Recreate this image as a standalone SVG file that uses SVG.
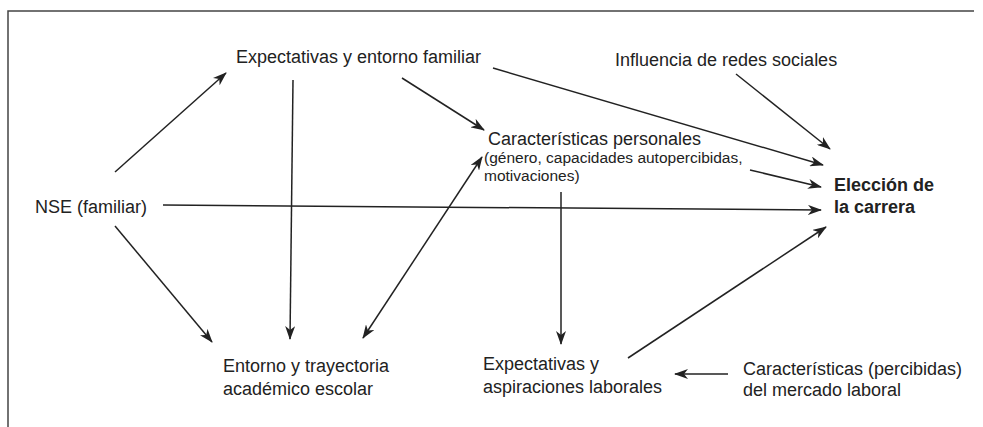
<svg xmlns="http://www.w3.org/2000/svg" width="983" height="427" viewBox="0 0 983 427">
<defs>
<style>
text{font-family:"Liberation Sans",Arial,Helvetica,sans-serif;font-size:18px;fill:#222}
.sm{font-size:15.5px}
.b{font-weight:bold}
.c{stroke:#222;stroke-width:1.5;fill:none}
</style>
<marker id="ah" viewBox="0 0 14 10" refX="13" refY="5" markerWidth="14" markerHeight="10" markerUnits="userSpaceOnUse" orient="auto-start-reverse">
<path d="M0,0 L14,5 L0,10 L4,5 z" fill="#222"/>
</marker>
</defs>
<rect width="983" height="427" fill="#fff"/>
<path d="M8,427 V11 H974" stroke="#444" stroke-width="1.5" fill="none"/>
<g id="nse"><text x="35" y="213">NSE (familiar)</text></g>
<g id="expfam"><text x="236" y="63">Expectativas y entorno familiar</text></g>
<g id="redes"><text x="615" y="66">Influencia de redes sociales</text></g>
<g id="personales"><text x="488" y="145">Características personales</text><text class="sm" x="484" y="163">(género, capacidades autopercibidas,</text><text class="sm" x="484" y="181">motivaciones)</text></g>
<g id="eleccion"><text class="b" x="834" y="191">Elección de</text><text class="b" x="834" y="213">la carrera</text></g>
<g id="entorno"><text x="223" y="372">Entorno y trayectoria</text><text x="223" y="395">académico escolar</text></g>
<g id="aspiraciones"><text x="483" y="370">Expectativas y</text><text x="483" y="393">aspiraciones laborales</text></g>
<g id="mercado"><text x="743" y="375">Características (percibidas)</text><text x="743" y="396">del mercado laboral</text></g>
<g id="connectors" class="c">
<line class="c" x1="115" y1="172" x2="226" y2="73" marker-end="url(#ah)"/>
<line class="c" x1="115" y1="226" x2="212" y2="342" marker-end="url(#ah)"/>
<line class="c" x1="163" y1="205" x2="821" y2="210" marker-end="url(#ah)"/>
<line class="c" x1="293" y1="80" x2="290" y2="339" marker-end="url(#ah)"/>
<line class="c" x1="402" y1="78" x2="484" y2="130" marker-end="url(#ah)"/>
<line class="c" x1="493" y1="68" x2="823" y2="165" marker-end="url(#ah)"/>
<line class="c" x1="736" y1="74" x2="830" y2="149" marker-end="url(#ah)"/>
<line class="c" x1="750" y1="170" x2="821" y2="187" marker-end="url(#ah)"/>
<line class="c" x1="482" y1="157" x2="363" y2="338" marker-start="url(#ah)" marker-end="url(#ah)"/>
<line class="c" x1="561" y1="192" x2="561" y2="344" marker-end="url(#ah)"/>
<line class="c" x1="628" y1="358" x2="826" y2="227" marker-end="url(#ah)"/>
<line class="c" x1="728" y1="374" x2="675" y2="374" marker-end="url(#ah)"/>
</g>
</svg>
